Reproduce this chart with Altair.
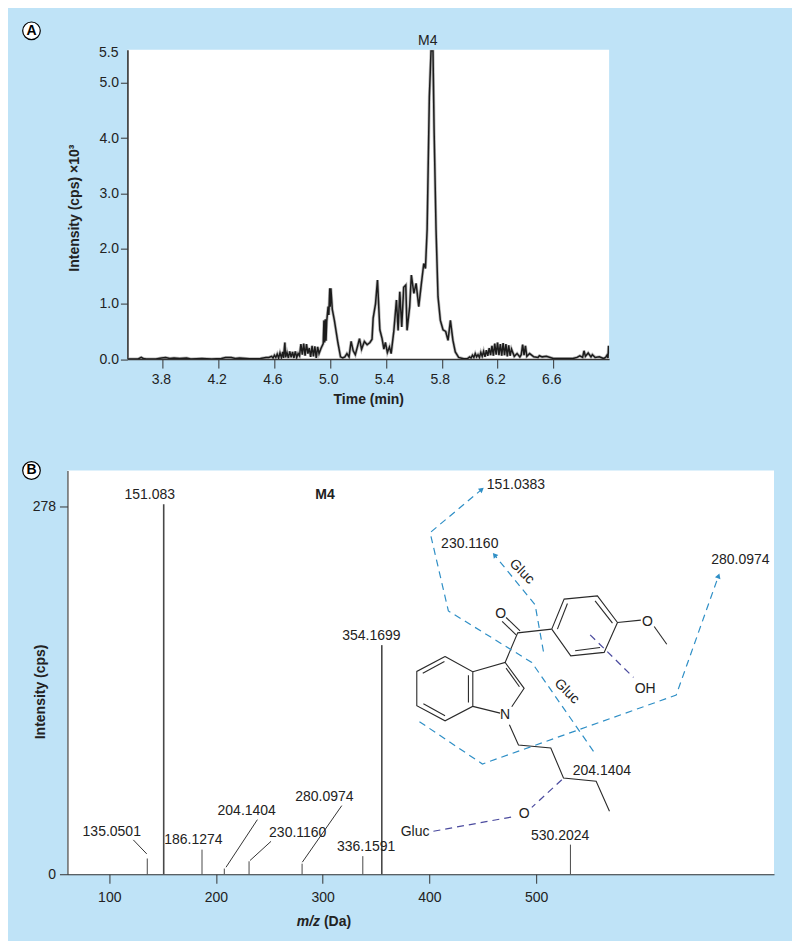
import altair as alt
import pandas as pd

FONT = "Liberation Sans"
INK = "#222222"

# ---------- Panel A: chromatogram (time, intensity x10^3) ----------
baseline_early = [(3.55,0),(3.62,0),(3.645,0.03),(3.66,0.01),(3.68,0),(3.75,0),(3.79,0.02),(3.82,0.03),(3.85,0.01),(3.88,0.02),
 (3.92,0.01),(3.97,0.02),(4.0,0),(4.08,0.01),(4.15,0),(4.22,0.01),(4.25,0.03),(4.29,0.03),(4.32,0.01),(4.35,0.02),(4.42,0.005),(4.5,0.01),(4.54,0.03)]
noise_rise = [(4.56,0.03),(4.58,0.05),(4.59,0.02),(4.60,0.07),(4.61,0.03),(4.62,0.09),(4.63,0.02),(4.64,0.11),(4.65,0.03),(4.66,0.13),
 (4.665,0.02),(4.675,0.30),(4.68,0.03),(4.69,0.12),(4.70,0.02),(4.71,0.14),(4.72,0.03),(4.73,0.13),(4.74,0.02),(4.75,0.14),(4.76,0.03),
 (4.77,0.10),(4.78,0.06),(4.79,0.27),(4.80,0.08),(4.81,0.28),(4.82,0.06),(4.83,0.27),(4.84,0.10),(4.85,0.20),(4.86,0.04),(4.87,0.24),
 (4.88,0.05),(4.89,0.23),(4.90,0.02),(4.91,0.22),(4.92,0.10)]
peak_5_0 = [(4.935,0.20),(4.95,0.28),(4.955,0.70),(4.96,0.30),(4.965,0.72),(4.97,0.33),(4.975,0.68),(4.985,0.95),(4.99,0.80),(4.997,1.28),
 (5.0,0.95),(5.005,1.28),(5.015,0.90),(5.03,0.70),(5.055,0.30),(5.074,0.04),(5.09,0.02),(5.105,0.04),(5.12,0.10),(5.135,0.04),(5.15,0.32),
 (5.165,0.15),(5.18,0.08),(5.195,0.22),(5.21,0.37),(5.225,0.18),(5.245,0.32),(5.265,0.26),(5.285,0.30)]
peak_5_34 = [(5.30,0.36),(5.308,0.74),(5.325,1.00),(5.339,1.43),(5.356,0.53),(5.372,0.37),(5.385,0.18),(5.396,0.30),(5.41,0.12),(5.425,0.22),(5.437,0.10)]
shoulder = [(5.456,0.50),(5.475,1.07),(5.487,0.52),(5.499,1.22),(5.513,0.58),(5.527,1.30),(5.542,1.34),(5.551,0.52),(5.57,0.95),(5.582,1.52),
 (5.60,1.19),(5.616,1.37),(5.635,0.95),(5.654,1.37),(5.671,1.73),(5.683,1.64),(5.695,2.34)]
peak_m4 = [(5.711,4.75),(5.723,5.58),(5.737,5.58),(5.745,4.15),(5.759,2.34),(5.773,1.13),(5.79,0.70),(5.809,0.53),(5.828,0.50),(5.845,0.34),
 (5.862,0.70),(5.88,0.34),(5.897,0.13),(5.921,0.03),(5.957,0.005),(5.985,0.01)]
noise_late = [(6.0,0.04),(6.01,0.02),(6.02,0.07),(6.03,0.03),(6.04,0.10),(6.05,0.04),(6.06,0.08),(6.07,0.03),(6.08,0.12),(6.09,0.05),(6.10,0.14),
 (6.11,0.04),(6.12,0.16),(6.13,0.06),(6.14,0.20),(6.15,0.07),(6.16,0.24),(6.17,0.06),(6.18,0.28),(6.19,0.08),(6.20,0.30),(6.21,0.07),(6.22,0.27),
 (6.23,0.06),(6.24,0.29),(6.25,0.07),(6.26,0.27),(6.27,0.05),(6.28,0.25),(6.29,0.06),(6.30,0.18),(6.32,0.05),(6.34,0.10),(6.36,0.04),(6.37,0.08),
 (6.38,0.26),(6.39,0.07),(6.40,0.24),(6.41,0.05),(6.43,0.10),(6.46,0.04),(6.49,0.03),(6.50,0.06),(6.52,0.04),(6.55,0.05),(6.60,0.01),(6.68,0.01),(6.74,0.01)]
noise_end = [(6.77,0.03),(6.79,0.06),(6.81,0.03),(6.82,0.15),(6.83,0.05),(6.85,0.11),(6.87,0.04),(6.88,0.08),(6.90,0.03),(6.93,0.04),(6.96,0.01),
 (6.975,0.03),(6.985,0.07),(6.992,0.02),(6.996,0.24),(7.0,0.10)]
m4_time = [5.70]; m4_y = [5.64]; m4_text = ["M4"]
top_label_y = [5.54]; top_label = ["5.5"]
time_ticks = [3.8,4.2,4.6,5.0,5.4,5.8,6.2,6.6]
intensity_ticks = [0,1,2,3,4,5]

# ---------- Panel B: spectrum ----------
mz = [135.6,151.0,186.9,207.8,231.0,280.7,337.6,355.4,532.2]
cps = [11.9,279.8,18.6,4.3,9.8,8.0,13.7,173.3,22.4]
thick = [1,1.6,1,1,1,1,1,1.6,1]
mz_ticks = [100,200,300,400,500]
cps_ticks = [0,278]

left_lab_x = [137.9,102.3,178.8,228.8,276.6,301.6,340.7,345.6,522.5]
left_lab_y = [286.9,32.3,26.2,48.1,31.0,58.7,20.4,180.1,29.2]
left_lab_t = ["151.083","135.0501","186.1274","204.1404","230.1160","280.0974","336.1591","354.1699","530.2024"]

leaders = [[(122.5,26.0),(135.1,15.4)],[(238.8,41.3),(209.4,5.3)],[(251.6,24.9),(231.9,10.4)],[(317.9,51.9),(280.9,9.1)]]

bonds = [
 [(414.7,164.7),(440.7,153.1),(440.7,127.0),(414.7,116.1),(388.2,127.5),(388.2,153.4),(414.7,164.7)],
 [(414.1,160.9),(393.8,152.1)],[(436.6,150.6),(436.6,130.0)],[(414.7,119.9),(394.4,129.0)],
 [(440.7,153.1),(471.0,160.2),(488.8,140.6),(477.2,126.7)],[(471.9,155.9),(484.4,141.8)],[(440.7,127.0),(466.3,121.9)],
 [(471.0,160.2),(482.8,182.6),(514.7,185.4)],[(485.0,184.1),(471.9,194.2)],[(481.3,181.1),(468.2,191.2)],
 [(514.7,185.4),(526.3,208.1),(557.5,210.6),(576.3,190.4),(563.8,167.8),(532.5,165.2),(514.7,185.4)],
 [(520.0,185.4),(529.4,204.8)],[(555.3,206.8),(571.6,189.9)],[(560.0,171.5),(536.6,169.0)],
 [(576.3,190.4),(598.2,192.2)],[(610.7,187.4),(622.5,174.0)],
 [(475.0,113.1),(483.5,97.7),(513.8,95.5),(525.7,72.8),(556.3,70.3),(568.8,47.6)],
]
blue_paths = [
 [(553.8,93.0),(496.0,160.2),(417.8,199.2),(400.7,258.4),(449.1,291.1)],
 [(506.9,168.5),(499.1,203.8),(461.0,241.5)],
 [(390.7,115.4),(449.7,83.4),(631.3,135.5),(671.0,225.7)],
]
purple_paths = [
 [(550.7,181.1),(591.3,148.9)],[(524.1,71.5),(496.0,50.6)],[(403.8,32.5),(480.3,43.8)],
]
arrow_x = [449.1,461.0,671.0]; arrow_y = [291.1,241.5,225.7]; arrow_angle = [50,321,20]

start_lab_x = [453.8,411.0,664.1,534.4]
start_lab_y = [294.2,250.1,237.5,78.3]
start_lab_t = ["151.0383","230.1160","280.0974","204.1404"]
atom_x = [602.2,488.8,386.6,471.0,466.9,604.4]
atom_y = [140.3,45.6,31.8,120.6,197.2,190.9]
atom_t = ["OH","O","Gluc","N","O","O"]
gluc_x = [486.6,528.8]; gluc_y = [228.9,138.3]; gluc_t = ["Gluc","Gluc"]
m4b_x = [302.2]; m4b_y = [286.9]; m4b_t = ["M4"]


def paths(groups):
    return pd.DataFrame([{"seg": i, "ord": j, "x": p[0], "y": p[1]}
                         for i, g in enumerate(groups) for j, p in enumerate(g)])


# Panel A
xA = alt.Scale(domain=[3.546, 7.0], nice=False, zero=False)
yA = alt.Scale(domain=[0, 5.6], nice=False)
chrom = pd.DataFrame(baseline_early + noise_rise + peak_5_0 + peak_5_34 + shoulder + peak_m4 + noise_late + noise_end,
                     columns=["t", "i"])
axis_xA = alt.Axis(values=time_ticks, title="Time (min)", format=".1f", tickSize=9, labelOffset=-2,
                   labelPadding=4, titlePadding=6, domainWidth=1.6, tickWidth=1)
axis_yA = alt.Axis(values=intensity_ticks, title="Intensity (cps) \u00d710\u00b3", format=".1f", tickSize=7,
                   labelPadding=2, titleX=-46, titleY=158, domainWidth=1.6, tickWidth=1)
a_halo = alt.Chart(chrom).mark_line(color="#8c8c8c", strokeWidth=3, opacity=0.6, clip=True).encode(
    x=alt.X("t:Q", scale=xA, axis=axis_xA), y=alt.Y("i:Q", scale=yA, axis=axis_yA))
a_line = alt.Chart(chrom).mark_line(color="#1c1c1c", strokeWidth=1.5, clip=True).encode(
    x=alt.X("t:Q", scale=xA), y=alt.Y("i:Q", scale=yA))
a_m4 = alt.Chart(pd.DataFrame({"x": m4_time, "y": m4_y, "t": m4_text})).mark_text(
    font=FONT, fontSize=14, color=INK, baseline="bottom").encode(
    x=alt.X("x:Q", scale=xA), y=alt.Y("y:Q", scale=yA), text="t:N")
a_top = alt.Chart(pd.DataFrame({"y": top_label_y, "t": top_label})).mark_text(
    font=FONT, fontSize=14, color=INK, align="right", baseline="middle").encode(
    x=alt.value(-9), y=alt.Y("y:Q", scale=yA), text="t:N")
panel_a = alt.layer(a_halo, a_line, a_m4, a_top).properties(width=482, height=309.5)

# Spacer view carrying the circled A: it sits at the same left edge as panel B's plot
a_circ = alt.Chart(pd.DataFrame({"k": ["A"]})).mark_point(
    shape="circle", size=310, filled=True, fill="white", stroke="black", strokeWidth=1.2, opacity=1).encode(
    x=alt.value(-36), y=alt.value(-19))
a_let = alt.Chart(pd.DataFrame({"k": ["A"]})).mark_text(
    font=FONT, fontSize=14, fontWeight="bold", color="black", baseline="middle").encode(
    x=alt.value(-36), y=alt.value(-19), text="k:N")
spacer = alt.layer(a_circ, a_let).properties(width=1, height=1, view=alt.ViewBackground(fill="transparent", stroke="transparent"))

# Panel B
xB = alt.Scale(domain=[60.8, 723], nice=False, zero=False)
yB = alt.Scale(domain=[0, 305.4], nice=False)
X = lambda **k: alt.X("x:Q", scale=xB, **k)
Y = lambda **k: alt.Y("y:Q", scale=yB, **k)
axis_xB = alt.Axis(values=mz_ticks, title=None, tickSize=9, labelPadding=7, domainWidth=1.1, tickWidth=1)
axis_yB = alt.Axis(values=cps_ticks, title="Intensity (cps)", tickSize=8, labelPadding=4, domainWidth=1.1,
                   tickWidth=1, titleX=-20, titleY=221)


def lab(xs, ys, ts, **kw):
    opts = dict(font=FONT, fontSize=14, color=INK, baseline="middle")
    opts.update(kw)
    return alt.Chart(pd.DataFrame({"x": xs, "y": ys, "t": ts})).mark_text(**opts).encode(
        x=X(), y=Y(), text="t:N")


def poly(groups, **kw):
    return alt.Chart(paths(groups)).mark_line(**kw).encode(x=X(), y=Y(), detail="seg:N", order="ord:Q")


sticks = alt.Chart(pd.DataFrame({"x": mz, "y": cps, "w": thick})).mark_rule(color="#484848").encode(
    x=X(axis=axis_xB), y=Y(axis=axis_yB), y2=alt.datum(0),
    strokeWidth=alt.StrokeWidth("w:Q", scale=None, legend=None))
BLUE = "#2f8fc6"
PURPLE = "#4a4a9e"
arrows = alt.Chart(pd.DataFrame({"x": arrow_x, "y": arrow_y, "a": arrow_angle})).mark_point(
    shape="triangle-up", filled=True, size=34, color=BLUE, opacity=1).encode(
    x=X(), y=Y(), angle=alt.Angle("a:Q", scale=None))
b_circ = alt.Chart(pd.DataFrame({"k": ["B"]})).mark_point(
    shape="circle", size=310, filled=True, fill="white", stroke="black", strokeWidth=1.2, opacity=1).encode(
    x=alt.value(-36), y=alt.value(0))
b_let = alt.Chart(pd.DataFrame({"k": ["B"]})).mark_text(
    font=FONT, fontSize=14, fontWeight="bold", color="black", baseline="middle").encode(
    x=alt.value(-36), y=alt.value(0), text="k:N")
panel_b = alt.layer(
    sticks,
    poly(leaders, color="#333333", strokeWidth=1),
    poly(bonds, color="#2a2a2a", strokeWidth=1.1),
    poly(blue_paths, color=BLUE, strokeWidth=1.2, strokeDash=[7, 5]),
    poly(purple_paths, color=PURPLE, strokeWidth=1.2, strokeDash=[7, 5]),
    arrows,
    lab(left_lab_x, left_lab_y, left_lab_t),
    lab(m4b_x, m4b_y, m4b_t, fontWeight="bold"),
    lab(start_lab_x, start_lab_y, start_lab_t, align="left"),
    lab(atom_x, atom_y, atom_t),
    lab(gluc_x, gluc_y, gluc_t, angle=45),
    lab([297.5], [-36.5], ["m/z"], align="right", fontWeight="bold", fontStyle="italic"),
    lab([301.2], [-36.5], ["(Da)"], align="left", fontWeight="bold"),
    b_circ, b_let,
).properties(width=707, height=404)

chart = alt.vconcat(alt.hconcat(spacer, panel_a, spacing=-2), panel_b, spacing=52).properties(
    background="#bfe3f7",
    padding={"left": 11.5, "top": 10.5, "right": 18, "bottom": 10},
    autosize=alt.AutoSizeParams(type="pad"),
).configure_view(fill="white", stroke=None).configure_axis(
    labelFont=FONT, titleFont=FONT, labelFontSize=14, titleFontSize=14, titleFontWeight="bold",
    labelColor=INK, titleColor=INK, domainColor="#333333", tickColor="#333333", grid=False)

chart.save("out.html", embed_options={"renderer": "svg", "actions": False})
